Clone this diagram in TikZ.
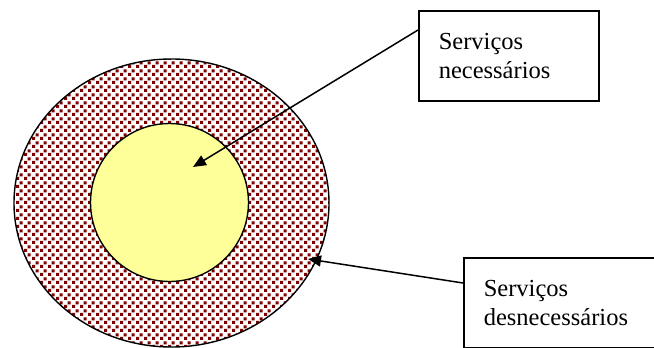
\documentclass[tikz,border=0pt]{standalone}
\usepackage{fontspec}
\setmainfont{Liberation Serif}
\usetikzlibrary{arrows.meta,patterns,calc,shapes.geometric}
\definecolor{dotred}{RGB}{128,0,0}
\definecolor{lightyel}{RGB}{255,255,153}
\pgfdeclarepatternformonly{redsquares}{\pgfpointorigin}{\pgfpoint{8pt}{8pt}}{\pgfpoint{8pt}{8pt}}{%
  \pgfpathrectangle{\pgfpoint{0pt}{0pt}}{\pgfpoint{3.5pt}{3.5pt}}%
  \pgfpathrectangle{\pgfpoint{4pt}{4pt}}{\pgfpoint{3.5pt}{3.5pt}}%
  \pgfusepath{fill}}
\tikzset{
  labelbox/.style={draw=black, line width=1.6pt, fill=white, rectangle, anchor=north west,
    inner xsep=20pt, inner ysep=0pt, align=left,
    font=\fontsize{24.5}{29}\selectfont},
  pointer/.style={draw=black, line width=1.5pt, -{Triangle[length=13pt,width=11pt]}},
  ring/.style={draw=black, line width=1.4pt, pattern=redsquares, pattern color=dotred},
  core/.style={draw=black, line width=1.4pt, fill=lightyel}
}
\begin{document}
\begin{tikzpicture}[x=1pt,y=-1pt]
\useasboundingbox (0,0) rectangle (654,348);
\fill[white] (0,0) rectangle (654,348);
\begin{scope}
\clip (0,0) rectangle (654,348);
\node[ring, ellipse, minimum width=315pt, minimum height=288pt, inner sep=0pt] (outer) at (171.5,203) {};
\end{scope}
\node[core, circle, minimum size=158pt, inner sep=0pt] (inner) at (169.5,202.5) {};
\node[labelbox, text width=140pt, minimum height=90pt] (b1) at (418,10) {Serviços\\necessários};
\begin{scope}
\clip (0,0) rectangle (654,348);
\node[labelbox, text width=170pt, minimum height=90pt] (b2) at (463,257) {Serviços\\desnecessários};
\end{scope}
\coordinate (s1) at ($(b1.north west)+(0,20)$);
\coordinate (t1) at (193,167);
\coordinate (s2) at ($(b2.north west)+(0,26)$);
\coordinate (t2) at (308,259);
\draw[pointer] (s1) -- (t1);
\draw[pointer] (s2) -- (t2);
\end{tikzpicture}
\end{document}
